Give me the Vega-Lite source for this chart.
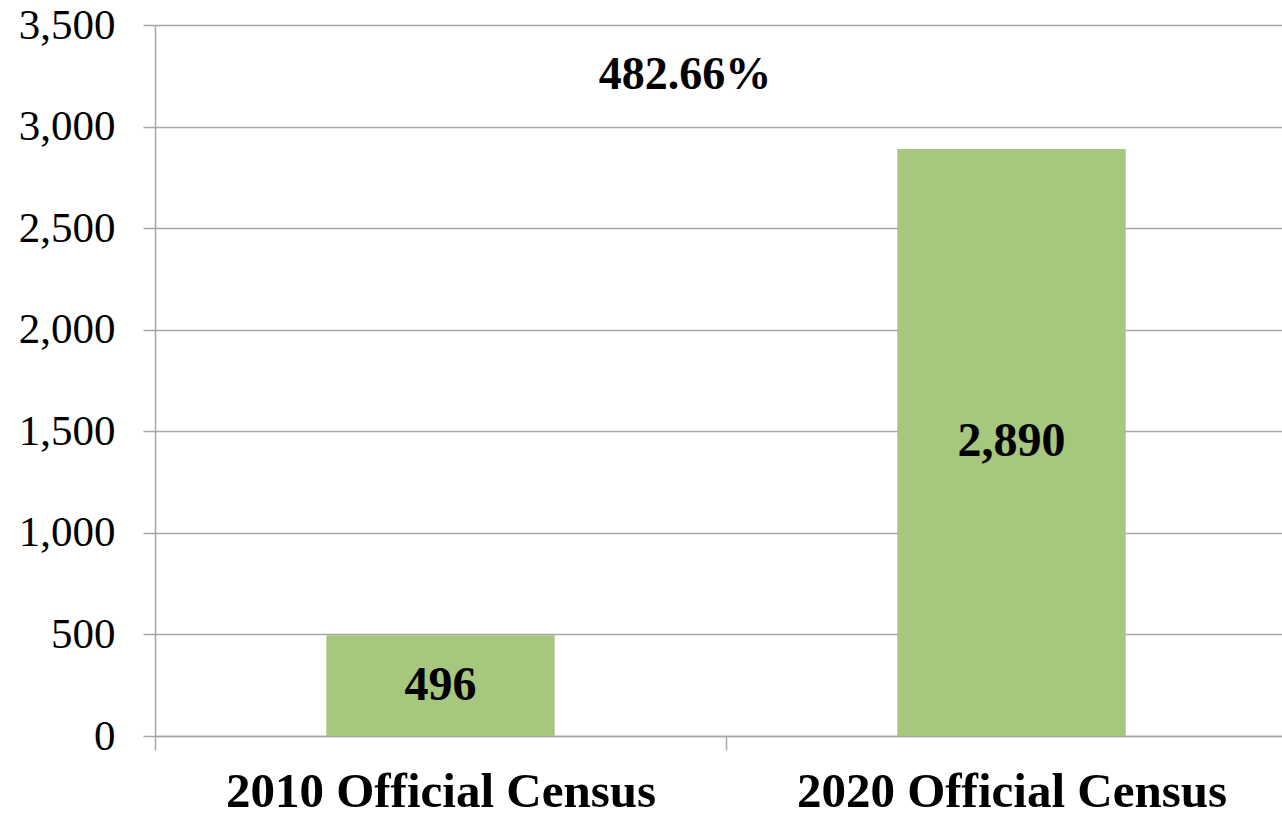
{
  "$schema": "https://vega.github.io/schema/vega-lite/v6.json",
  "width": 1142,
  "height": 711,
  "autosize": {"type": "none"},
  "padding": {"left": 155, "top": 25, "right": -15, "bottom": 80},
  "background": "white",
  "config": {"view": {"stroke": null}},
  "datasets": {
    "census": [
      {"category": "2010 Official Census", "value": 496, "label": "496"},
      {"category": "2020 Official Census", "value": 2890, "label": "2,890"}
    ],
    "change": [{"text": "482.66%", "value": 3254}]
  },
  "layer": [
    {
      "data": {"name": "census"},
      "mark": {"type": "bar", "color": "#A7C77F", "width": {"band": 0.4}},
      "encoding": {
        "x": {
          "field": "category",
          "type": "nominal",
          "sort": null,
          "scale": {"paddingInner": 0, "paddingOuter": 0},
          "axis": {
            "title": null,
            "labelAngle": 0,
            "labelLimit": 0,
            "labelFont": "Liberation Serif",
            "labelFontWeight": "bold",
            "labelFontSize": 49,
            "labelColor": "#000000",
            "labelPadding": 17,
            "domainColor": "#A6A6A6",
            "domainWidth": 1.5,
            "tickColor": "#A6A6A6",
            "tickWidth": 1.5,
            "tickSize": 14,
            "tickBand": "extent",
            "grid": false
          }
        },
        "y": {
          "field": "value",
          "type": "quantitative",
          "scale": {"domain": [0, 3500], "nice": false},
          "axis": {
            "title": null,
            "values": [0, 500, 1000, 1500, 2000, 2500, 3000, 3500],
            "format": ",d",
            "labelFont": "Liberation Serif",
            "labelFontSize": 43,
            "labelColor": "#000000",
            "labelPadding": 28,
            "domainColor": "#A6A6A6",
            "domainWidth": 1.5,
            "tickColor": "#A6A6A6",
            "tickWidth": 1.5,
            "tickSize": 12,
            "grid": true,
            "gridColor": "#A6A6A6",
            "gridWidth": 1.5
          }
        }
      }
    },
    {
      "data": {"name": "census"},
      "transform": [{"calculate": "datum.value / 2", "as": "labelPos"}],
      "mark": {"type": "text", "font": "Liberation Serif", "fontWeight": "bold", "fontSize": 48, "color": "#000000", "baseline": "middle", "align": "center"},
      "encoding": {
        "x": {"field": "category", "type": "nominal", "sort": null},
        "y": {"field": "labelPos", "type": "quantitative"},
        "text": {"field": "label"}
      }
    },
    {
      "data": {"name": "change"},
      "mark": {"type": "text", "font": "Liberation Serif", "fontWeight": "bold", "fontSize": 46, "color": "#000000", "baseline": "middle", "align": "center", "dx": -41},
      "encoding": {
        "y": {"field": "value", "type": "quantitative"},
        "text": {"field": "text"}
      }
    }
  ]
}
